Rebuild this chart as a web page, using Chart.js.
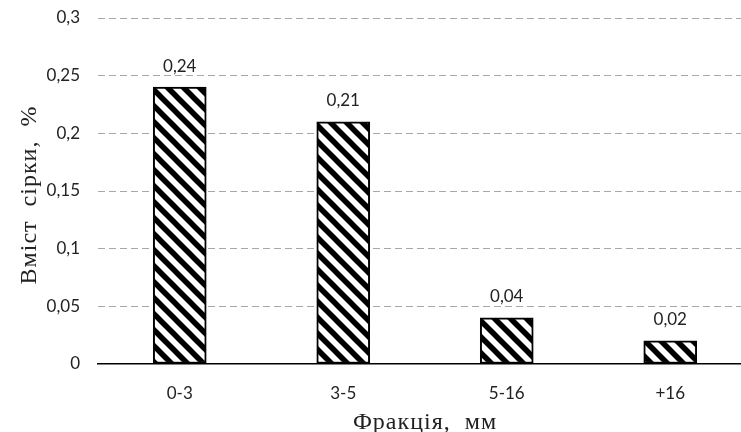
<!DOCTYPE html>
<html>
<head>
<meta charset="utf-8">
<script src="https://cdn.jsdelivr.net/npm/chart.js@4"></script>
<style>
html,body{margin:0;padding:0;background:#fff;overflow:hidden;}
#wrap{width:760px;height:432px;position:relative;}
</style>
</head>
<body>
<div id="wrap"><canvas id="c" width="760" height="432"></canvas></div>
<script>
const categories = ["0-3", "3-5", "5-16", "+16"];
const sulfurValues = [0.24, 0.21, 0.04, 0.02];
const yTicks = [0, 0.05, 0.1, 0.15, 0.2, 0.25, 0.3];
const xTitle = "Фракція,  мм";
const yTitle = "Вміст  сірки,  %";

function fmt(v){ return String(Math.round(v*100)/100).replace('.', ','); }

function hatch(){
  const s = 16;
  const t = document.createElement('canvas');
  t.width = s; t.height = s;
  const g = t.getContext('2d');
  g.fillStyle = '#fff'; g.fillRect(0,0,s,s);
  g.strokeStyle = '#000'; g.lineWidth = 5.5;
  for (const o of [-s, 0, s]) {
    g.beginPath(); g.moveTo(o - 2, -2); g.lineTo(o + s + 2, s + 2); g.stroke();
  }
  return document.createElement('canvas').getContext('2d').createPattern(t, 'repeat');
}

const TICK_FONT = { family: 'Lato', size: 17 };

const labelPlugin = {
  id: 'vals',
  afterDatasetsDraw(chart){
    const ctx = chart.ctx;
    const meta = chart.getDatasetMeta(0);
    ctx.save();
    ctx.font = TICK_FONT.size + 'px ' + TICK_FONT.family;
    ctx.fillStyle = '#222';
    ctx.textAlign = 'center';
    ctx.textBaseline = 'middle';
    meta.data.forEach((el, i) => {
      ctx.fillText(fmt(sulfurValues[i]), el.x, el.y - 21);
    });
    ctx.restore();
  }
};

const titlePlugin = {
  id: 'titles',
  afterDraw(chart){
    const ctx = chart.ctx;
    const a = chart.chartArea;
    ctx.save();
    ctx.font = '24px "Liberation Serif"';
    if ('letterSpacing' in ctx) ctx.letterSpacing = '1px';
    ctx.fillStyle = '#222';
    ctx.textAlign = 'center';
    ctx.textBaseline = 'middle';
    ctx.fillText(xTitle, (a.left + a.right) / 2, 423);
    ctx.translate(30, (a.top + a.bottom) / 2 + 4);
    ctx.rotate(-Math.PI / 2);
    ctx.fillText(yTitle, 0, 0);
    ctx.restore();
  }
};

new Chart(document.getElementById('c'), {
  type: 'bar',
  data: {
    labels: categories,
    datasets: [{
      data: sulfurValues,
      backgroundColor: hatch(),
      borderColor: '#000',
      borderWidth: 2,
      borderSkipped: false,
      barThickness: 53
    }]
  },
  options: {
    responsive: false,
    animation: false,
    layout: { padding: { top: 18, right: 8, left: 0, bottom: 0 } },
    plugins: { legend: { display: false }, tooltip: { enabled: false } },
    scales: {
      x: {
        grid: { display: false, drawTicks: false },
        border: { display: true, color: '#000', width: 1.5 },
        ticks: { padding: 19, color: '#222', font: TICK_FONT },
        afterFit(s){ s.height = 68; s.paddingLeft = 0; s.paddingRight = 0; }
      },
      y: {
        min: 0, max: 0.3,
        afterBuildTicks(s){ s.ticks = yTicks.map(v => ({ value: v })); },
        grid: {
          drawTicks: false,
          color: c => c.tick && c.tick.value === 0 ? 'rgba(0,0,0,0)' : '#a8a8a8',
          lineWidth: 1
        },
        border: { display: false, dash: [7, 4] },
        ticks: { padding: 18, color: '#222', font: TICK_FONT, callback: v => fmt(v) },
        afterFit(s){ s.width = 98; s.paddingTop = 0; s.paddingBottom = 0; }
      }
    }
  },
  plugins: [labelPlugin, titlePlugin]
});
</script>
</body>
</html>
